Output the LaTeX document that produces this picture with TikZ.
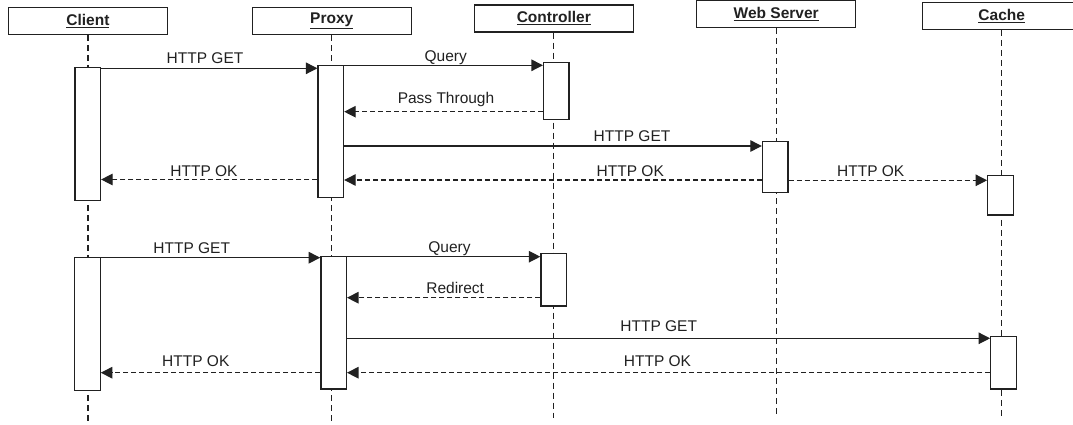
\documentclass[tikz,border=0pt]{standalone}
\usepackage{fontspec}
\setmainfont{Liberation Sans}
\usetikzlibrary{arrows.meta}
\begin{document}
\begin{tikzpicture}[x=1pt,y=-1pt,
  ink/.style={draw=black!87},
  hdr/.style={ink, line width=1.3pt, fill=white, minimum width=159pt, minimum height=27pt, inner sep=0pt, font=\fontsize{15.5}{18}\selectfont\bfseries, text=black!87},
  act/.style={ink, line width=1.3pt, fill=white, minimum width=25.5pt, inner sep=0pt},
  life/.style={ink, line width=1.2pt, dash pattern=on 6pt off 4pt},
  msg/.style={ink, line width=1.2pt, -{Triangle[length=11.5pt,width=11.5pt]}},
  ret/.style={msg, dash pattern=on 5pt off 3pt},
  lbl/.style={anchor=base, inner sep=0pt, font=\fontsize{15.5}{18}\selectfont, text=black!87}]
\useasboundingbox (0,0) rectangle (1073,425);
\fill[white] (0,0) rectangle (1073,425);

% headers
\node[hdr] (client) at (87.9,20.8) {\underline{Client}};
\node[hdr] (proxy) at (331.7,21) {\underline{Proxy}};
\node[hdr] (ctrl) at (553.8,18.4) {\underline{Controller}};
\node[hdr] (web) at (776.2,14) {\underline{Web Server}};
\node[hdr] (cache) at (1001.7,15.8) {\underline{Cache}};

% lifeline ends
\coordinate (clientEnd) at (87.9,421.7);
\coordinate (proxyEnd) at (331.7,421.5);
\coordinate (ctrlEnd) at (553.8,418);
\coordinate (webEnd) at (776.2,414);
\coordinate (cacheEnd) at (1001.7,416.7);
\draw[life] (client.south) -- (clientEnd);
\draw[life] (proxy.south) -- (proxyEnd);
\draw[life] (ctrl.south) -- (ctrlEnd);
\draw[life] (web.south) -- (webEnd);
\draw[life] (cache.south) -- (cacheEnd);

% activation boxes
\node[act, minimum height=133pt] (ca1) at (87.7,134.2) {};
\node[act, minimum height=132.6pt] (ca2) at (87.4,324) {};
\node[act, minimum height=132pt] (pa1) at (330.8,131.7) {};
\node[act, minimum height=132.3pt] (pa2) at (333.6,322.9) {};
\node[act, minimum height=57.4pt] (ta1) at (556.3,91) {};
\node[act, minimum height=52.3pt] (ta2) at (553.7,279.9) {};
\node[act, minimum height=51pt] (wa1) at (775.2,166.8) {};
\node[act, minimum height=39.3pt] (ka1) at (1000.5,195.4) {};
\node[act, minimum height=52.3pt] (ka2) at (1003.5,362.9) {};

% message levels
\coordinate (m1) at (0,68.3);
\coordinate (m2) at (0,65.3);
\coordinate (m3) at (0,111.7);
\coordinate (m4) at (0,146);
\coordinate (m5) at (0,180);
\coordinate (m6) at (0,179.5);
\coordinate (m7) at (0,180.3);
\coordinate (m8) at (0,257.7);
\coordinate (m9) at (0,256.7);
\coordinate (m10) at (0,297.7);
\coordinate (m11) at (0,338.3);
\coordinate (m12) at (0,372.7);

% first scenario
\draw[msg] (ca1.east |- m1) -- (pa1.west |- m1);
\draw[msg] (pa1.east |- m2) -- (ta1.west |- m2);
\draw[ret] (ta1.west |- m3) -- (pa1.east |- m3);
\draw[msg] (pa1.east |- m4) -- (wa1.west |- m4);
\draw[ret] (wa1.west |- m5) -- (pa1.east |- m5);
\draw[ret] (pa1.west |- m6) -- (ca1.east |- m6);
\draw[ret] (wa1.east |- m7) -- (ka1.west |- m7);

\node[lbl] (l1) at (205,63.3) {HTTP GET};
\node[lbl] (l2) at (445.7,61.3) {Query};
\node[lbl] (l3) at (446,103.3) {Pass Through};
\node[lbl] (l4) at (632,141.7) {HTTP GET};
\node[lbl] (l5) at (630.3,176.7) {HTTP OK};
\node[lbl] (l6) at (204,176.7) {HTTP OK};
\node[lbl] (l7) at (870.7,176.7) {HTTP OK};

% second scenario
\draw[msg] (ca2.east |- m8) -- (pa2.west |- m8);
\draw[msg] (pa2.east |- m9) -- (ta2.west |- m9);
\draw[ret] (ta2.west |- m10) -- (pa2.east |- m10);
\draw[msg] (pa2.east |- m11) -- (ka2.west |- m11);
\draw[ret] (ka2.west |- m12) -- (pa2.east |- m12);
\draw[ret] (pa2.west |- m12) -- (ca2.east |- m12);

\node[lbl] (l8) at (191.7,253.3) {HTTP GET};
\node[lbl] (l9) at (449.5,252.3) {Query};
\node[lbl] (l10) at (455.2,293.3) {Redirect};
\node[lbl] (l11) at (658.7,331.7) {HTTP GET};
\node[lbl] (l12) at (657.5,366.7) {HTTP OK};
\node[lbl] (l13) at (195.8,366) {HTTP OK};
\end{tikzpicture}
\end{document}
